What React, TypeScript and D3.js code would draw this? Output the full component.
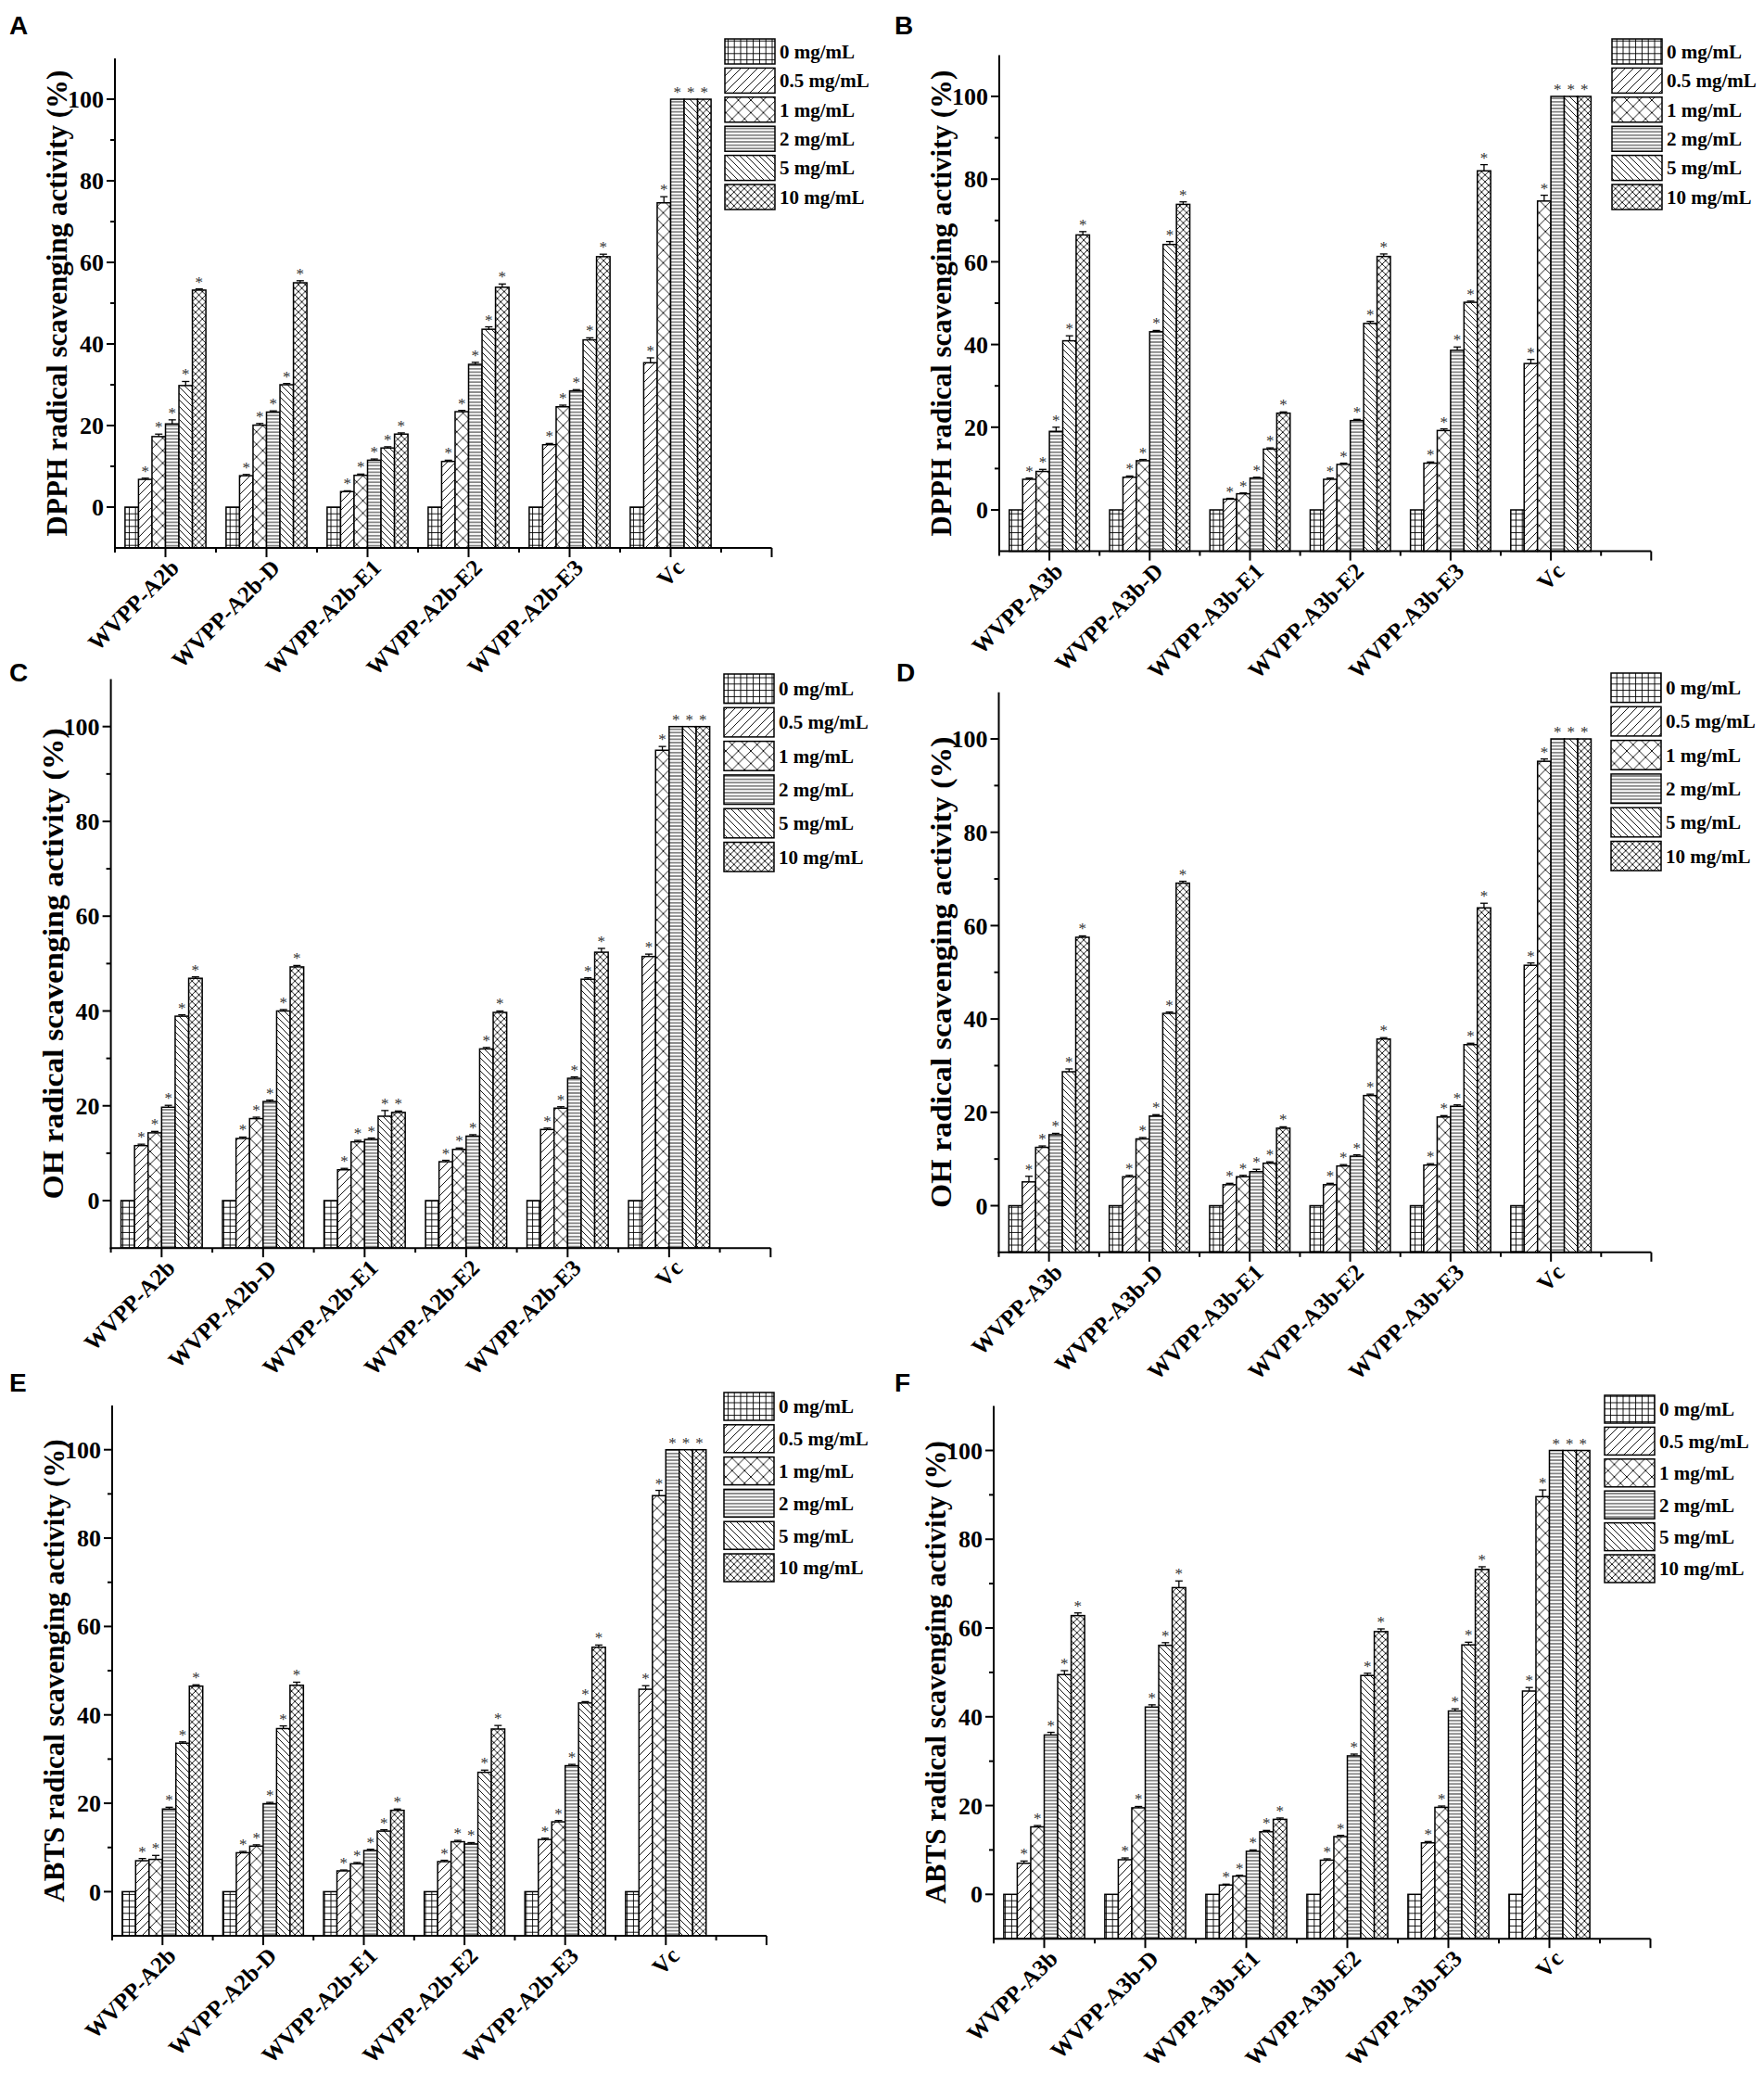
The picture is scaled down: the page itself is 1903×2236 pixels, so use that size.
import React from "react";
import * as d3 from "d3";

// ---------------- DATA ----------------
const concentrations = ["0 mg/mL", "0.5 mg/mL", "1 mg/mL", "2 mg/mL", "5 mg/mL", "10 mg/mL"];
const samplesA2b = ["WVPP-A2b", "WVPP-A2b-D", "WVPP-A2b-E1", "WVPP-A2b-E2", "WVPP-A2b-E3", "Vc"];
const samplesA3b = ["WVPP-A3b", "WVPP-A3b-D", "WVPP-A3b-E1", "WVPP-A3b-E2", "WVPP-A3b-E3", "Vc"];
const yMajorTicks = [0, 20, 40, 60, 80, 100];
const yMinorTicks = [10, 30, 50, 70, 90];

// Panel A: DPPH, A2b series (rows = samples, cols = concentrations)
const dpphA2b = [
  [0, 6.8, 17.3, 20.4, 29.8, 53.2],
  [0, 7.7, 20.1, 23.3, 30.0, 55.0],
  [0, 3.8, 7.8, 11.5, 14.5, 17.9],
  [0, 11.2, 23.4, 35.0, 43.6, 53.9],
  [0, 15.3, 24.6, 28.5, 41.0, 61.4],
  [0, 35.4, 74.6, 100, 100, 100],
];
const dpphA2bErr = [
  [0, 0.3, 0.6, 1.0, 1.0, 0.3],
  [0, 0.3, 0.4, 0.3, 0.3, 0.5],
  [0, 0.2, 0.3, 0.3, 0.3, 0.3],
  [0, 0.3, 0.3, 0.5, 0.6, 0.8],
  [0, 0.3, 0.4, 0.3, 0.5, 0.6],
  [0, 1.2, 1.5, 0, 0, 0],
];
// Panel B: DPPH, A3b series
const dpphA3b = [
  [0, 7.4, 9.3, 19.0, 40.9, 66.5],
  [0, 7.9, 11.9, 43.1, 64.2, 73.9],
  [0, 2.6, 3.9, 7.7, 14.7, 23.4],
  [0, 7.4, 11.0, 21.6, 45.1, 61.3],
  [0, 11.3, 19.2, 38.6, 50.2, 82.0],
  [0, 35.4, 74.7, 100, 100, 100],
];
const dpphA3bErr = [
  [0, 0.3, 0.5, 1.0, 1.2, 0.8],
  [0, 0.3, 0.3, 0.3, 0.7, 0.6],
  [0, 0.2, 0.2, 0.2, 0.3, 0.3],
  [0, 0.3, 0.3, 0.3, 0.5, 0.6],
  [0, 0.3, 0.4, 0.8, 0.3, 1.5],
  [0, 1.0, 1.4, 0, 0, 0],
];
// Panel C: OH, A2b series
const ohA2b = [
  [0, 11.6, 14.3, 19.7, 38.9, 46.9],
  [0, 13.1, 17.3, 20.9, 40.0, 49.3],
  [0, 6.5, 12.4, 12.9, 17.8, 18.6],
  [0, 8.2, 10.8, 13.6, 32.0, 39.7],
  [0, 15.0, 19.5, 25.8, 46.7, 52.4],
  [0, 51.5, 95.0, 100, 100, 100],
];
const ohA2bErr = [
  [0, 0.3, 0.3, 0.4, 0.3, 0.3],
  [0, 0.3, 0.3, 0.3, 0.3, 0.3],
  [0, 0.3, 0.3, 0.3, 1.2, 0.3],
  [0, 0.3, 0.3, 0.3, 0.3, 0.3],
  [0, 0.3, 0.3, 0.3, 0.3, 0.8],
  [0, 0.5, 0.8, 0, 0, 0],
];
// Panel D: OH, A3b series
const ohA3b = [
  [0, 5.1, 12.5, 15.2, 28.7, 57.5],
  [0, 6.2, 14.3, 19.2, 41.2, 69.1],
  [0, 4.5, 6.2, 7.3, 9.1, 16.6],
  [0, 4.5, 8.5, 10.6, 23.6, 35.7],
  [0, 8.7, 19.0, 21.3, 34.5, 63.8],
  [0, 51.5, 95.2, 100, 100, 100],
];
const ohA3bErr = [
  [0, 1.2, 0.3, 0.3, 0.6, 0.3],
  [0, 0.3, 0.3, 0.3, 0.3, 0.4],
  [0, 0.3, 0.3, 0.5, 0.3, 0.3],
  [0, 0.3, 0.3, 0.3, 0.3, 0.3],
  [0, 0.3, 0.3, 0.3, 0.3, 1.0],
  [0, 0.5, 0.5, 0, 0, 0],
];
// Panel E: ABTS, A2b series
const abtsA2b = [
  [0, 7.0, 7.3, 18.7, 33.6, 46.5],
  [0, 8.8, 10.3, 19.9, 36.9, 46.7],
  [0, 4.7, 6.3, 9.3, 13.7, 18.4],
  [0, 6.8, 11.3, 10.8, 27.0, 36.8],
  [0, 11.8, 15.8, 28.5, 42.7, 55.3],
  [0, 45.8, 89.6, 100, 100, 100],
];
const abtsA2bErr = [
  [0, 0.5, 0.9, 0.4, 0.3, 0.3],
  [0, 0.3, 0.3, 0.3, 0.6, 0.7],
  [0, 0.2, 0.3, 0.3, 0.3, 0.3],
  [0, 0.3, 0.3, 0.3, 0.5, 0.8],
  [0, 0.3, 0.3, 0.3, 0.3, 0.5],
  [0, 0.8, 1.2, 0, 0, 0],
];
// Panel F: ABTS, A3b series
const abtsA3b = [
  [0, 7.0, 15.2, 35.9, 49.5, 62.8],
  [0, 7.8, 19.5, 42.2, 56.1, 69.1],
  [0, 2.1, 4.1, 9.7, 14.1, 16.9],
  [0, 7.7, 13.0, 31.2, 49.3, 59.2],
  [0, 11.6, 19.6, 41.3, 56.2, 73.2],
  [0, 45.8, 89.6, 100, 100, 100],
];
const abtsA3bErr = [
  [0, 0.5, 0.3, 0.6, 0.9, 0.6],
  [0, 0.4, 0.3, 0.5, 0.6, 1.5],
  [0, 0.2, 0.2, 0.3, 0.3, 0.3],
  [0, 0.3, 0.3, 0.4, 0.5, 0.6],
  [0, 0.3, 0.3, 0.5, 0.6, 0.6],
  [0, 0.8, 1.5, 0, 0, 0],
];

// ---------------- LAYOUT ----------------
const patternIds = ["pGrid", "pFwd", "pCross", "pHoriz", "pBack", "pCrossSmall"];
const SERIF = "'Liberation Serif', 'Times New Roman', Times, serif";
const SANS = "'Liberation Sans', Arial, Helvetica, sans-serif";

type PanelCfg = {
  letter: string; lx: number; ly: number;
  ylabel: string; samples: string[]; values: number[][]; errors: number[][];
  x0: number; slot: number; y0: number; y100: number;
  legX: number; legTop: number; legStep: number; legH: number; stretch: number;
};

const panels: PanelCfg[] = [
  { letter: "A", lx: 10, ly: 37, ylabel: "DPPH radical scavenging activity (%)", samples: samplesA2b, values: dpphA2b, errors: dpphA2bErr,
    x0: 124, slot: 109, y0: 547, y100: 107, legX: 782, legTop: 42, legStep: 31.4, legH: 27, stretch: 1 },
  { letter: "B", lx: 965, ly: 37, ylabel: "DPPH radical scavenging activity (%)", samples: samplesA3b, values: dpphA3b, errors: dpphA3bErr,
    x0: 1078, slot: 108.2, y0: 550, y100: 104, legX: 1739, legTop: 42, legStep: 31.4, legH: 27, stretch: 1 },
  { letter: "C", lx: 10, ly: 735, ylabel: "OH radical scavenging activity (%)", samples: samplesA2b, values: ohA2b, errors: ohA2bErr,
    x0: 119.6, slot: 109.5, y0: 1295, y100: 783.7, legX: 781, legTop: 727, legStep: 36.3, legH: 31.6, stretch: 1.09 },
  { letter: "D", lx: 967, ly: 735, ylabel: "OH radical scavenging activity (%)", samples: samplesA3b, values: ohA3b, errors: ohA3bErr,
    x0: 1077.5, slot: 108.3, y0: 1300.5, y100: 797, legX: 1738, legTop: 726, legStep: 36.3, legH: 31.6, stretch: 1.09 },
  { letter: "E", lx: 10, ly: 1501, ylabel: "ABTS radical scavenging activity (%)", samples: samplesA2b, values: abtsA2b, errors: abtsA2bErr,
    x0: 121, slot: 108.6, y0: 2040.4, y100: 1563.7, legX: 781, legTop: 1502, legStep: 34.8, legH: 30, stretch: 1 },
  { letter: "F", lx: 965, ly: 1501, ylabel: "ABTS radical scavenging activity (%)", samples: samplesA3b, values: abtsA3b, errors: abtsA3bErr,
    x0: 1072, slot: 109, y0: 2043.3, y100: 1564.5, legX: 1731, legTop: 1505, legStep: 34.4, legH: 30, stretch: 1 },
];

function Patterns() {
  const sw = 0.9;
  return (
    <defs>
      <pattern id="pGrid" patternUnits="userSpaceOnUse" width={6.8} height={6.8}>
        <rect width={6.8} height={6.8} fill="#fff" />
        <path d="M0,3.4 H6.8 M3.4,0 V6.8" stroke="#000" strokeWidth={sw} />
      </pattern>
      <pattern id="pFwd" patternUnits="userSpaceOnUse" width={9} height={9}>
        <rect width={9} height={9} fill="#fff" />
        <path d="M-2,2 L2,-2 M0,9 L9,0 M7,11 L11,7" stroke="#000" strokeWidth={sw} />
      </pattern>
      <pattern id="pCross" patternUnits="userSpaceOnUse" width={13.5} height={13.5}>
        <rect width={13.5} height={13.5} fill="#fff" />
        <path d="M0,0 L13.5,13.5 M13.5,0 L0,13.5" stroke="#000" strokeWidth={sw} />
      </pattern>
      <pattern id="pHoriz" patternUnits="userSpaceOnUse" width={10} height={3.6}>
        <rect width={10} height={3.6} fill="#fff" />
        <path d="M0,1.8 H10" stroke="#000" strokeWidth={sw} />
      </pattern>
      <pattern id="pBack" patternUnits="userSpaceOnUse" width={7} height={7}>
        <rect width={7} height={7} fill="#fff" />
        <path d="M-2,5 L2,9 M0,0 L7,7 M5,-2 L9,2" stroke="#000" strokeWidth={sw} />
      </pattern>
      <pattern id="pCrossSmall" patternUnits="userSpaceOnUse" width={7.4} height={7.4}>
        <rect width={7.4} height={7.4} fill="#fff" />
        <path d="M0,0 L7.4,7.4 M7.4,0 L0,7.4" stroke="#000" strokeWidth={sw} />
      </pattern>
    </defs>
  );
}

function Panel({ cfg }: { cfg: PanelCfg }) {
  const y = d3.scaleLinear().domain([0, 100]).range([cfg.y0, cfg.y100]);
  const x = d3.scaleLinear().domain([0.5, 7]).range([cfg.x0, cfg.x0 + 6.5 * cfg.slot]);
  const inner = d3.scaleBand<string>().domain(concentrations).range([-0.4 * cfg.slot, 0.4 * cfg.slot]).padding(0);
  const yBottom = y(-10);
  const yTop = y(110);
  const xEnd = x(7);
  const majorX = d3.range(1, 8);
  const minorX = d3.range(0.5, 7, 1);
  return (
    <g>
      <text x={cfg.lx} y={cfg.ly} fontFamily={SANS} fontWeight="bold" fontSize={28}>{cfg.letter}</text>
      {/* bars */}
      {cfg.samples.map((s, i) => (
        <g key={s}>
          {concentrations.map((c, j) => {
            const v = cfg.values[i][j];
            const e = cfg.errors[i][j];
            const bx = x(i + 1) + (inner(c) as number);
            const bw = inner.bandwidth();
            const cx = bx + bw / 2;
            const top = y(v);
            const eTop = y(v + e);
            return (
              <g key={c}>
                <rect x={bx} y={top} width={bw} height={yBottom - top} fill={`url(#${patternIds[j]})`} stroke="#000" strokeWidth={1.5} />
                {e > 0 && (
                  <g stroke="#000" strokeWidth={1.3}>
                    <line x1={cx} x2={cx} y1={top} y2={eTop} />
                    <line x1={cx - 4} x2={cx + 4} y1={eTop} y2={eTop} />
                  </g>
                )}
                {v > 0 && (
                  <text x={cx} y={eTop - 2} textAnchor="middle" fontFamily={SERIF} fontSize={17} fill="#333">*</text>
                )}
              </g>
            );
          })}
        </g>
      ))}
      {/* axes */}
      <g stroke="#000" strokeWidth={2} fill="none">
        <line x1={cfg.x0} x2={cfg.x0} y1={yTop} y2={yBottom + 1} />
        <line x1={cfg.x0 - 1} x2={xEnd} y1={yBottom} y2={yBottom} />
        {yMajorTicks.map((t) => (
          <line key={"ym" + t} x1={cfg.x0 - 9} x2={cfg.x0} y1={y(t)} y2={y(t)} />
        ))}
        {yMinorTicks.map((t) => (
          <line key={"yn" + t} x1={cfg.x0 - 5} x2={cfg.x0} y1={y(t)} y2={y(t)} />
        ))}
        {majorX.map((t) => (
          <line key={"xm" + t} x1={x(t)} x2={x(t)} y1={yBottom} y2={yBottom + 10} />
        ))}
        {minorX.map((t) => (
          <line key={"xn" + t} x1={x(t)} x2={x(t)} y1={yBottom} y2={yBottom + 5} />
        ))}
      </g>
      {yMajorTicks.map((t) => (
        <text key={"yl" + t} x={cfg.x0 - 12} y={y(t)} dy="0.35em" textAnchor="end" fontFamily={SERIF} fontWeight="bold" fontSize={26}>{t}</text>
      ))}
      <text
        transform={`translate(${cfg.x0 - 52},${(yTop + yBottom) / 2}) rotate(-90) scale(${cfg.stretch},1)`}
        textAnchor="middle" fontFamily={SERIF} fontWeight="bold" fontSize={31}
      >{cfg.ylabel}</text>
      {cfg.samples.map((s, i) => (
        <text key={"xl" + s}
          transform={`translate(${x(i + 1) + 16},${yBottom + 23}) rotate(-45)`}
          textAnchor="end" fontFamily={SERIF} fontWeight="bold" fontSize={25}
        >{s}</text>
      ))}
      {/* legend */}
      {concentrations.map((c, j) => {
        const ty = cfg.legTop + j * cfg.legStep;
        return (
          <g key={"lg" + c}>
            <rect x={cfg.legX} y={ty} width={54} height={cfg.legH} fill={`url(#${patternIds[j]})`} stroke="#000" strokeWidth={1.5} />
            <text x={cfg.legX + 59} y={ty + cfg.legH / 2} dy="0.35em" fontFamily={SERIF} fontWeight="bold" fontSize={21}>{c}</text>
          </g>
        );
      })}
    </g>
  );
}

export default function App() {
  return (
    <svg width={1903} height={2236} viewBox="0 0 1903 2236"
      style={{ position: "absolute", left: 0, top: 0, background: "#fff" }}>
      <Patterns />
      <rect x={0} y={0} width={1903} height={2236} fill="#fff" />
      {panels.map((p) => (
        <Panel key={p.letter} cfg={p} />
      ))}
    </svg>
  );
}
